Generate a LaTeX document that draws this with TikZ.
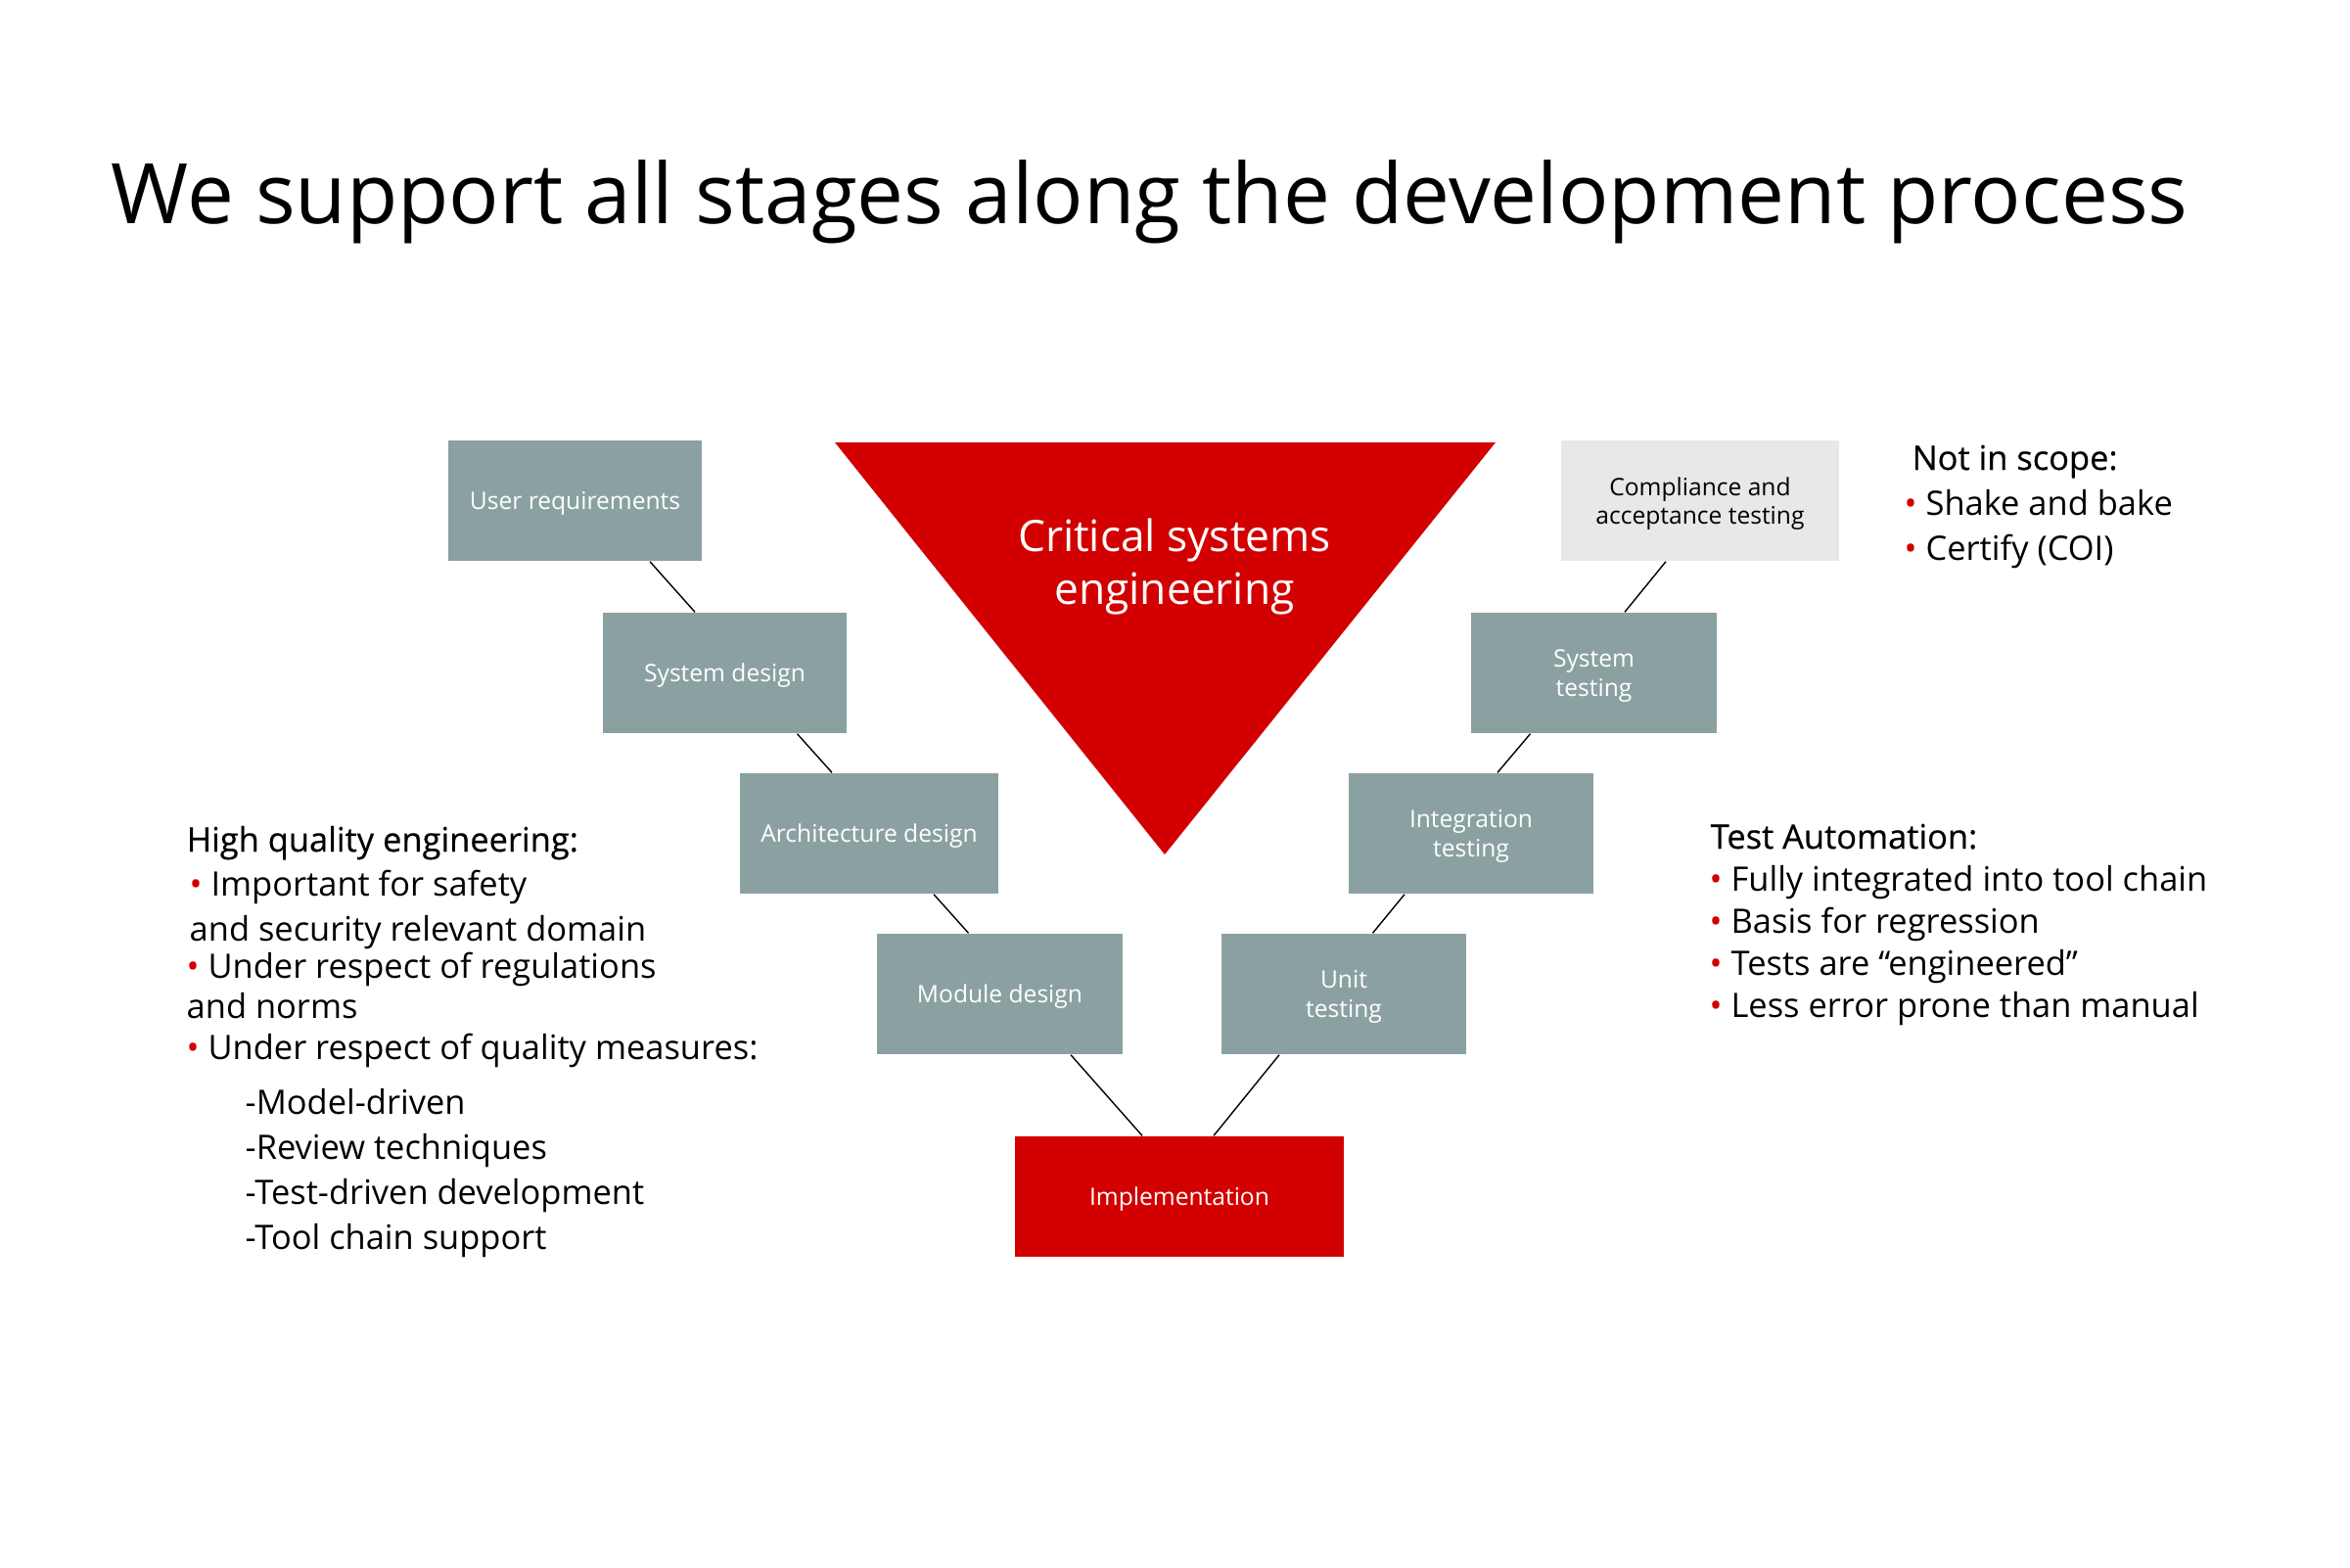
\documentclass[tikz,border=0pt]{standalone}
\usepackage{fontspec}
\setmainfont{Open Sans}
\newfontfamily\headfont[FakeBold=0.4]{Open Sans}
\usepackage{xcolor}
\usepackage{tikz}
\definecolor{vred}{HTML}{D20000}
\definecolor{stagegrey}{HTML}{8BA1A1}
\definecolor{lightgrey}{HTML}{E8E8E8}
\newcommand{\rbul}{{\color{vred}\textbullet}\ }

\begin{document}
\begin{tikzpicture}[x=1cm, y=-1cm,
    stage/.style={fill=stagegrey, text=white, inner sep=0pt, minimum height=1.23cm,
      text depth=0pt, align=center, font=\fontsize{7}{8.4}\selectfont},
    txt/.style={anchor=base west, inner sep=0pt, font=\fontsize{9.8}{11}\selectfont},
    head/.style={txt, font=\headfont\fontsize{9.8}{11}\selectfont}]
      \useasboundingbox (0,0) rectangle (24.01,16.01);
      \fill[white] (0,0) rectangle (24.01,16.01);
      % title
      \node[anchor=base west, inner sep=0pt, font=\fontsize{24.3}{29}\selectfont]
        (title) at (1.13,2.28) {We support all stages along the development process};
      % the V
      \fill[vred] (8.53,4.52) -- (15.28,4.52) -- (11.90,8.73) -- cycle;
      \node[text=white, align=center, font=\fontsize{12.6}{15.6}\selectfont]
        (cse) at (12.0,5.79) {Critical systems\\engineering};
      % stages, left arm
      \node[stage, minimum width=2.59cm] (ureq) at (5.875,5.115) {User requirements};
      \node[stage, minimum width=2.49cm] (sysd) at (7.405,6.875) {System design};
      \node[stage, minimum width=2.64cm] (archd) at (8.88,8.515) {Architecture design};
      \node[stage, minimum width=2.51cm] (modd) at (10.215,10.155) {Module design};
      \node[stage, minimum width=3.36cm, fill=vred] (impl) at (12.05,12.225) {Implementation};
      % stages, right arm
      \node[stage, minimum width=2.50cm] (unitt) at (13.73,10.155) {Unit\\testing};
      \node[stage, minimum width=2.50cm] (integ) at (15.03,8.515) {Integration\\testing};
      \node[stage, minimum width=2.51cm] (syst) at (16.285,6.875) {System\\testing};
      \node[stage, minimum width=2.84cm, fill=lightgrey, text=black]
        (compl) at (17.37,5.115) {Compliance and\\acceptance testing};
      % links: upper box, shift on its edge, lower box, shift on its edge
      \foreach \a/\da/\b/\db in {ureq/0.765/sysd/-0.305, sysd/0.74/archd/-0.38,
                                 archd/0.66/modd/-0.32, modd/0.725/impl/-0.38}
        \draw[thin] ([xshift=\da cm]\a.south) -- ([xshift=\db cm]\b.north);
      \foreach \a/\da/\b/\db in {compl/-0.35/syst/0.315, syst/-0.65/integ/0.27,
                                 integ/-0.68/unitt/0.295, unitt/-0.66/impl/0.35}
        \draw[thin] ([xshift=\da cm]\a.south) -- ([xshift=\db cm]\b.north);
      % left block: baseline, x, text
      \node[head] (hqe) at (1.90,8.70) {High quality engineering:};
      \foreach \y/\x/\t [count=\i] in {%
        9.15/1.93/{\rbul Important for safety},
        9.61/1.93/{and security relevant domain},
        9.99/1.90/{\rbul Under respect of regulations},
        10.40/1.90/{and norms},
        10.82/1.90/{\rbul Under respect of quality measures:},
        11.38/2.50/{-Model-driven},
        11.84/2.50/{-Review techniques},
        12.30/2.50/{-Test-driven development},
        12.76/2.50/{-Tool chain support}}
        \node[txt] (hq\i) at (\x,\y) {\t};
      % test automation
      \node[head] (ta) at (17.47,8.67) {Test Automation:};
      \foreach \y/\t [count=\i] in {%
        9.10/{Fully integrated into tool chain},
        9.53/{Basis for regression},
        9.96/{Tests are “engineered”},
        10.39/{Less error prone than manual}}
        \node[txt] (ta\i) at (17.46,\y) {\rbul\t};
      % not in scope
      \node[head] (nis) at (19.53,4.80) {Not in scope:};
      \foreach \y/\t [count=\i] in {5.26/{Shake and bake}, 5.72/{Certify (COI)}}
        \node[txt] (nis\i) at (19.45,\y) {\rbul\t};
\end{tikzpicture}
\end{document}
